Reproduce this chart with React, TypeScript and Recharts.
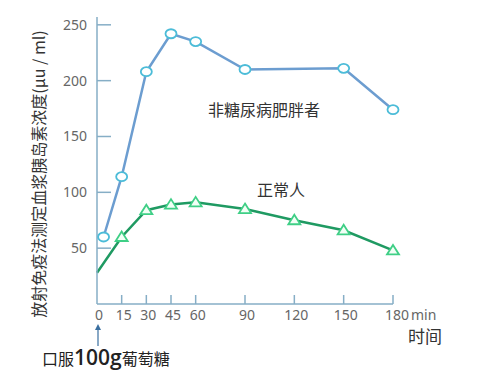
import { LineChart, Line, XAxis, YAxis } from 'recharts';

// minutes after the glucose dose
const obeseTimes = [4, 15, 30, 45, 60, 90, 150, 180];
const obeseInsulin = [60, 114, 208, 242, 235, 210, 211, 174];

const normalTimes = [0, 15, 30, 45, 60, 90, 120, 150, 180];
const normalInsulin = [28, 60, 84, 89, 91, 85, 75, 66, 48];

const xTicks = [0, 15, 30, 45, 60, 90, 120, 150, 180];
const yTicks = [50, 100, 150, 200, 250];

const obeseData = obeseTimes.map((t, i) => ({ t, v: obeseInsulin[i] }));
const normalData = normalTimes.map((t, i) => ({ t, v: normalInsulin[i] }));

const AXIS = '#86aec6';
const TICK_TEXT = '#666';
const FONT = '"Noto Sans", "Noto Sans CJK SC", sans-serif';
const CJK = '"Noto Sans CJK SC", sans-serif';

const XTick = (props: any) => {
  const { x, y, payload } = props;
  const v = payload.value;
  return (
    <g>
      {v !== 0 && <line x1={x} x2={x} y1={y} y2={y - 9} stroke={AXIS} strokeWidth={1.5} />}
      <text x={v === 180 ? x + 4 : x + 2} y={y + 16} textAnchor="middle" fill={TICK_TEXT} fontSize={14} fontFamily={FONT}>
        {v}
      </text>
      {v === 180 && (
        <text x={x + 18} y={y + 16} fill={TICK_TEXT} fontSize={14} fontFamily={FONT}>min</text>
      )}
    </g>
  );
};

const YTick = (props: any) => {
  const { x, y, payload } = props;
  return (
    <g>
      <line x1={x} x2={x + 14} y1={y} y2={y} stroke={AXIS} strokeWidth={1.5} />
      <text x={x - 10} y={y + 5} textAnchor="end" fill={TICK_TEXT} fontSize={14} fontFamily={FONT}>
        {payload.value}
      </text>
    </g>
  );
};

const CircleDot = (p: any) => (
  <ellipse key={`c${p.index}`} cx={p.cx} cy={p.cy} rx={5.5} ry={4.5} fill="#fff" stroke="#4cbcd8" strokeWidth={1.8} />
);

const TriDot = (p: any) => {
  if (p.index === 0) return <g key="t0" />;
  const { cx, cy } = p;
  return (
    <path
      key={`t${p.index}`}
      d={`M${cx},${cy - 5.5} L${cx + 6},${cy + 4} L${cx - 6},${cy + 4} Z`}
      fill="#f2fff6"
      stroke="#3fcf86"
      strokeWidth={1.8}
    />
  );
};

export default function App() {
  return (
    <div style={{ position: 'relative', width: 480, height: 386, background: '#fff' }}>
      <style>{`body{margin:0}`}</style>
      <LineChart width={480} height={386} margin={{ top: 17, right: 87, bottom: 52, left: 37 }}>
        <XAxis
          dataKey="t"
          type="number"
          domain={[0, 180]}
          ticks={xTicks}
          allowDuplicatedCategory={false}
          tickSize={0}
          tickMargin={0}
          tickLine={false}
          axisLine={{ stroke: AXIS, strokeWidth: 1.5 }}
          tick={XTick}
          height={30}
        />
        <YAxis
          type="number"
          domain={[0, 257]}
          ticks={yTicks}
          tickSize={0}
          tickMargin={0}
          tickLine={false}
          axisLine={{ stroke: AXIS, strokeWidth: 1.5 }}
          tick={YTick}
          width={60}
        />
        <Line data={obeseData} dataKey="v" stroke="#6c9dd0" strokeWidth={2.5} dot={CircleDot} isAnimationActive={false} />
        <Line data={normalData} dataKey="v" stroke="#1f9a62" strokeWidth={2.5} dot={TriDot} isAnimationActive={false} />
      </LineChart>

      <div
        style={{
          position: 'absolute', left: 38, top: 174, transform: 'translate(-50%, -50%) rotate(-90deg)',
          whiteSpace: 'nowrap', fontSize: 16, fontFamily: CJK, color: '#333', lineHeight: 1,
        }}
      >
        放射免疫法测定血浆胰岛素浓度(μu / ml)
      </div>
      <div style={{ position: 'absolute', left: 208, top: 100, fontSize: 16, fontFamily: CJK, color: '#333', lineHeight: 1.2 }}>
        非糖尿病肥胖者
      </div>
      <div style={{ position: 'absolute', left: 257, top: 180, fontSize: 16, fontFamily: CJK, color: '#333', lineHeight: 1.2 }}>
        正常人
      </div>
      <div style={{ position: 'absolute', left: 408, top: 327, fontSize: 17, fontFamily: CJK, color: '#333', lineHeight: 1 }}>
        时间
      </div>
      <svg style={{ position: 'absolute', left: 90, top: 322 }} width={16} height={26}>
        <line x1={8} x2={8} y1={6} y2={24} stroke="#3a6fa0" strokeWidth={1.2} />
        <path d="M5,8 L8,2 L11,8 Z" fill="#3a6fa0" />
      </svg>
      <div style={{ position: 'absolute', left: 42, top: 345, fontFamily: CJK, color: '#222', lineHeight: 1.2, whiteSpace: 'nowrap' }}>
        <span style={{ fontSize: 16 }}>口服</span>
        <span style={{ fontSize: 21, fontFamily: '"Open Sans", sans-serif', fontWeight: 600 }}>100g</span>
        <span style={{ fontSize: 16 }}>葡萄糖</span>
      </div>
    </div>
  );
}
